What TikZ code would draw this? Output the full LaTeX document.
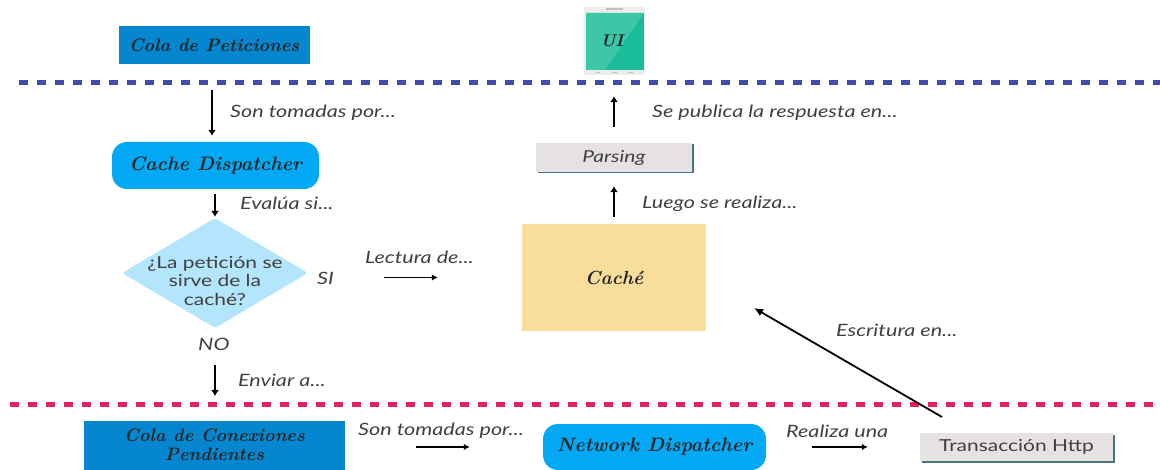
\documentclass[tikz,border=0pt]{standalone}
\usepackage{fontspec}
\setmainfont{Lato}[FakeStretch=1.27]
\usetikzlibrary{arrows.meta,shapes.geometric,shadows}
\definecolor{deepblue}{HTML}{0586CF}
\definecolor{skyblue}{HTML}{03A9F4}
\definecolor{paleblue}{HTML}{B3E5FC}
\definecolor{sandy}{HTML}{F9DD9A}
\definecolor{greybox}{HTML}{E6E2E1}
\definecolor{slate}{HTML}{4A7184}
\definecolor{lineblue}{HTML}{3F4DB0}
\definecolor{linered}{HTML}{E91E63}
\definecolor{inktext}{HTML}{404040}
\definecolor{screendark}{HTML}{1ABC9C}
\definecolor{screenlight}{HTML}{3EC6A8}
\definecolor{phonebody}{HTML}{EDEDED}
\newcommand{\scriptlook}[1]{\fontspec{Latin Modern Roman}\fontsize{#1}{#1}\selectfont\bfseries\itshape\color{black!85}}
\tikzset{
  flowarrow/.style={draw=black,line width=2.6pt,-{Latex[length=6pt,width=8pt]}},
  thinarrow/.style={draw=black,line width=1.6pt,-{Latex[length=6pt,width=6.5pt]}},
  queuebox/.style={fill=deepblue,inner sep=0pt,align=center},
  dispatchbox/.style={fill=skyblue,rounded corners=15pt,inner sep=0pt},
  stepbox/.style={fill=greybox,inner sep=0pt,general shadow={fill=slate,shadow xshift=1.5pt,shadow yshift=-1.5pt},text=inktext,font=\fontsize{16.5}{18}\selectfont},
  caption/.style={text=inktext,font=\itshape\fontsize{17}{18}\selectfont,inner sep=0pt},
  separator/.style={line width=5pt,dash pattern=on 9pt off 9pt}
}
\begin{document}
\begin{tikzpicture}[x=1pt,y=-1pt]
\useasboundingbox (0,0) rectangle (1160,470);
\clip (0,0) rectangle (1160,470);
% separators
\coordinate (blueL) at (19,83);
\coordinate (blueR) at (1160,83);
\coordinate (redL) at (10,405);
\coordinate (redR) at (1160,405);
\draw[separator,lineblue] (blueL) -- (blueR);
\draw[separator,linered] (redL) -- (redR);
% top row
\node[queuebox,minimum width=191pt,minimum height=38pt] (queue) at (214,45) {\scriptlook{18}Cola de Peticiones};
\node[fill=phonebody,rounded corners=2pt,minimum width=61pt,minimum height=68pt,inner sep=0pt] (phone) at (614.5,41) {};
\fill[screendark] (586,13) rectangle (644,70);
\fill[screenlight] (586,13) -- (644,13) -- (605,70) -- (586,70) -- cycle;
\fill[black!25] (606,8.5) rectangle (623,10);
\fill[black!25] (596,72) rectangle (600,73) (612,72) rectangle (617,73) (628,72) rectangle (633,73);
\node[inner sep=0pt] (ui) at (612,41) {\scriptlook{17}UI};
% main nodes
\node[dispatchbox,minimum width=207pt,minimum height=47pt] (cd) at (215.5,165.5) {\scriptlook{19.5}Cache Dispatcher};
\node[diamond,fill=paleblue,rounded corners=3pt,inner sep=0pt,minimum width=186pt,minimum height=110pt,shape aspect=1.69,
  label={[align=center,text=inktext,font=\fontsize{16.5}{18.5}\selectfont,inner sep=0pt,yshift=-8pt]center:¿La petición se\\sirve de la\\caché?}] (dia) at (215,273) {};
\node[fill=sandy,minimum width=184pt,minimum height=107pt,inner sep=0pt] (cache) at (614,277.5) {\scriptlook{19}Caché};
\node[stepbox,minimum width=156pt,minimum height=29pt,font=\itshape\fontsize{16.5}{18}\selectfont] (parsing) at (614,157.5) {Parsing};
\node[queuebox,minimum width=261pt,minimum height=52pt] (pending) at (214.5,447) {\raisebox{-2pt}{\scriptlook{18}\begin{tabular}{@{}c@{}}Cola de Conexiones\\[1pt]Pendientes\end{tabular}}};
\node[dispatchbox,minimum width=223pt,minimum height=46pt] (net) at (654.5,447) {\scriptlook{19.5}Network Dispatcher};
\node[stepbox,minimum width=193pt,minimum height=28pt] (http) at (1016.5,447) {Transacción Http};
% captions
\node[caption,anchor=west] (c1) at (230,113) {Son tomadas por...};
\node[caption,anchor=west] (c2) at (240,203) {Evalúa si...};
\node[caption,anchor=west] (c3) at (317,278) {SI};
\node[caption,anchor=west] (c4) at (198,344) {NO};
\node[caption,anchor=west] (c5) at (238,380) {Enviar a...};
\node[caption,anchor=west] (c6) at (365,257) {Lectura de...};
\node[caption,anchor=west] (c7) at (642,204) {Luego se realiza...};
\node[caption,anchor=west] (c8) at (652,113) {Se publica la respuesta en...};
\node[caption,anchor=west] (c9) at (836,330) {Escritura en...};
\node[caption,anchor=west] (c10) at (358,431) {Son tomadas por...};
\node[caption,anchor=west] (c11) at (786,431) {Realiza una};
% connectors
\coordinate (takeStart) at (212,90);
\coordinate (sendEnd) at (215,405);
\coordinate (writeStart) at (942,417);
\coordinate (writeEnd) at (754,308);
\draw[flowarrow,shorten >=6pt] (takeStart) -- (takeStart |- cd.north);
\draw[flowarrow,shorten <=5pt,shorten >=1pt] (cd.south -| dia.north) -- (dia.north);
\draw[flowarrow,shorten <=37pt,shorten >=9pt] (dia.south) -- (sendEnd);
\draw[thinarrow,shorten <=76pt,shorten >=84pt] (cache.west -| dia.east) -- (cache.west);
\draw[flowarrow,shorten <=7pt,shorten >=14pt] (cache.north) -- (parsing.south);
\draw[flowarrow,shorten <=16pt,shorten >=21pt] (parsing.north) -- (parsing.north |- phone.south);
\draw[thinarrow,shorten <=71pt,shorten >=73pt] (pending.east) -- (net.west);
\draw[thinarrow,shorten <=46pt,shorten >=52pt] (net.east) -- (http.west);
\draw[draw=black,line width=1.8pt,-{Latex[length=9pt,width=8pt]}] (writeStart) -- (writeEnd);
\end{tikzpicture}
\end{document}
